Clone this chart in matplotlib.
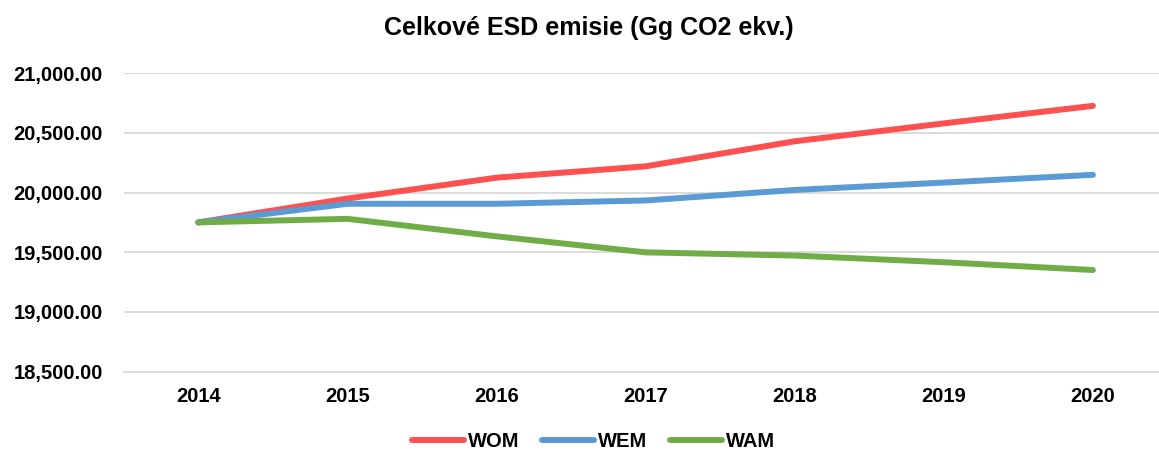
import matplotlib
matplotlib.use("Agg")
import matplotlib.pyplot as plt
from matplotlib.ticker import FuncFormatter

plt.rcParams['font.family'] = ['Liberation Sans', 'DejaVu Sans']
plt.rcParams['font.weight'] = 'bold'

years = ["2014", "2015", "2016", "2017", "2018", "2019", "2020"]
wom = [19750, 19950, 20125, 20220, 20430, 20580, 20727]
wem = [19750, 19906, 19906, 19934, 20022, 20084, 20149]
wam = [19750, 19780, 19633, 19499, 19472, 19416, 19351]

series = [("WOM", wom, "#FF5050"), ("WEM", wem, "#5B9BD5"), ("WAM", wam, "#70AD47")]

fig = plt.figure(figsize=(11.59, 4.53), dpi=100)
ax = fig.add_axes([0.1068, 0.1799, 0.9005, 0.6583])

x = list(range(len(years)))
for name, vals, col in series:
    ax.plot(x, vals, color=col, lw=4.3, solid_capstyle="round", solid_joinstyle="round", label=name)

ax.set_xlim(-0.5, len(years) - 0.5)
ax.set_ylim(18500, 21000)
ax.set_yticks([18500, 19000, 19500, 20000, 20500, 21000])
ax.yaxis.set_major_formatter(FuncFormatter(lambda v, p: f"{v:,.2f}"))
ax.set_xticks(x)
ax.set_xticklabels(years)

ax.grid(axis="y", color="#D9D9D9", lw=1.3)
ax.set_axisbelow(True)
for s in ["top", "right", "left"]:
    ax.spines[s].set_visible(False)
ax.spines["bottom"].set_color("#D9D9D9")
ax.spines["bottom"].set_linewidth(1.3)
ax.tick_params(axis="both", length=0, labelsize=14.5, colors="black")
ax.tick_params(axis="y", pad=15)
ax.tick_params(axis="x", pad=11)
for lab in ax.get_xticklabels() + ax.get_yticklabels():
    lab.set_fontweight("bold")

fig.text(0.508, 0.938, "Celkové ESD emisie (Gg CO2 ekv.)", ha="center", va="center",
         fontsize=18, fontweight="bold")

fig.legend(loc="center", bbox_to_anchor=(0.512, 0.026), ncol=3, frameon=False,
           handlelength=2.6, handletextpad=0.2, columnspacing=1.1, borderpad=0.1,
           prop={"weight": "bold", "size": 14.5})

fig.savefig("out.png", dpi=100)
